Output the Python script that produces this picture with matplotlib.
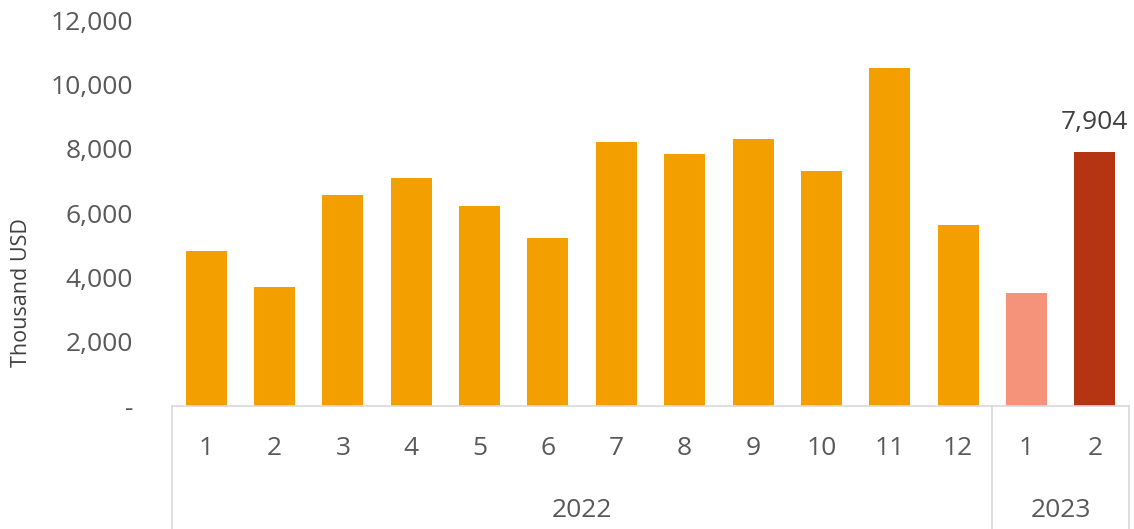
import matplotlib
matplotlib.use("Agg")
import matplotlib.pyplot as plt
from matplotlib.ticker import FuncFormatter

months = ["1", "2", "3", "4", "5", "6", "7", "8", "9", "10", "11", "12", "1", "2"]
years = ["2022", "2023"]
year_sizes = [12, 2]
values = [4810, 3700, 6550, 7080, 6210, 5220, 8200, 7830, 8290, 7300, 10500, 5620, 3510, 7904]
colors = ["#F39F00"] * 12 + ["#F4937A", "#B53513"]

plt.rcParams["font.family"] = ["Open Sans", "DejaVu Sans"]
fig = plt.figure(figsize=(11.34, 5.29), dpi=100)
ax = fig.add_axes([172 / 1134, (529 - 406) / 529, (1129 - 172) / 1134, (406 - 20) / 529])

fs = 19
x = list(range(len(values)))
ax.bar(x, values, width=0.6, color=colors)
ax.set_xlim(-0.5, len(values) - 0.5)
ax.set_ylim(0, 12000)
ax.set_yticks(range(0, 12001, 2000))
ax.yaxis.set_major_formatter(FuncFormatter(lambda v, p: "-" if v == 0 else f"{int(v):,}"))
ax.tick_params(axis="y", length=0, labelsize=fs, labelcolor="#595959", pad=28)
ax.set_xticks([])
for s in ["left", "right", "top"]:
    ax.spines[s].set_visible(False)
ax.spines["bottom"].set_color("#D9D9D9")
ax.spines["bottom"].set_linewidth(1.2)
ax.set_ylabel("Thousand USD", fontsize=15.5, color="#404040")
ax.yaxis.set_label_coords(-0.146, 0.293)

# month labels
for i, m in enumerate(months):
    ax.text(i, -0.11, m, transform=ax.get_xaxis_transform(), ha="center", va="center",
            fontsize=fs, color="#595959")

# year groups and divider lines
start = 0
bounds = [-0.5]
for y, n in zip(years, year_sizes):
    mid = start + (n - 1) / 2
    ax.text(mid, -0.27, y, transform=ax.get_xaxis_transform(), ha="center", va="center",
            fontsize=fs, color="#595959")
    start += n
    bounds.append(start - 0.5)
for b in bounds:
    ax.plot([b, b], [0, -0.32], transform=ax.get_xaxis_transform(), color="#D9D9D9",
            lw=1.2, clip_on=False)

# data label for the last bar
ax.annotate(f"{values[-1]:,}", (x[-1], values[-1]), xytext=(0, 12), textcoords="offset points",
            ha="center", va="bottom", fontsize=fs, color="#404040")

fig.savefig("out.png", dpi=100)
